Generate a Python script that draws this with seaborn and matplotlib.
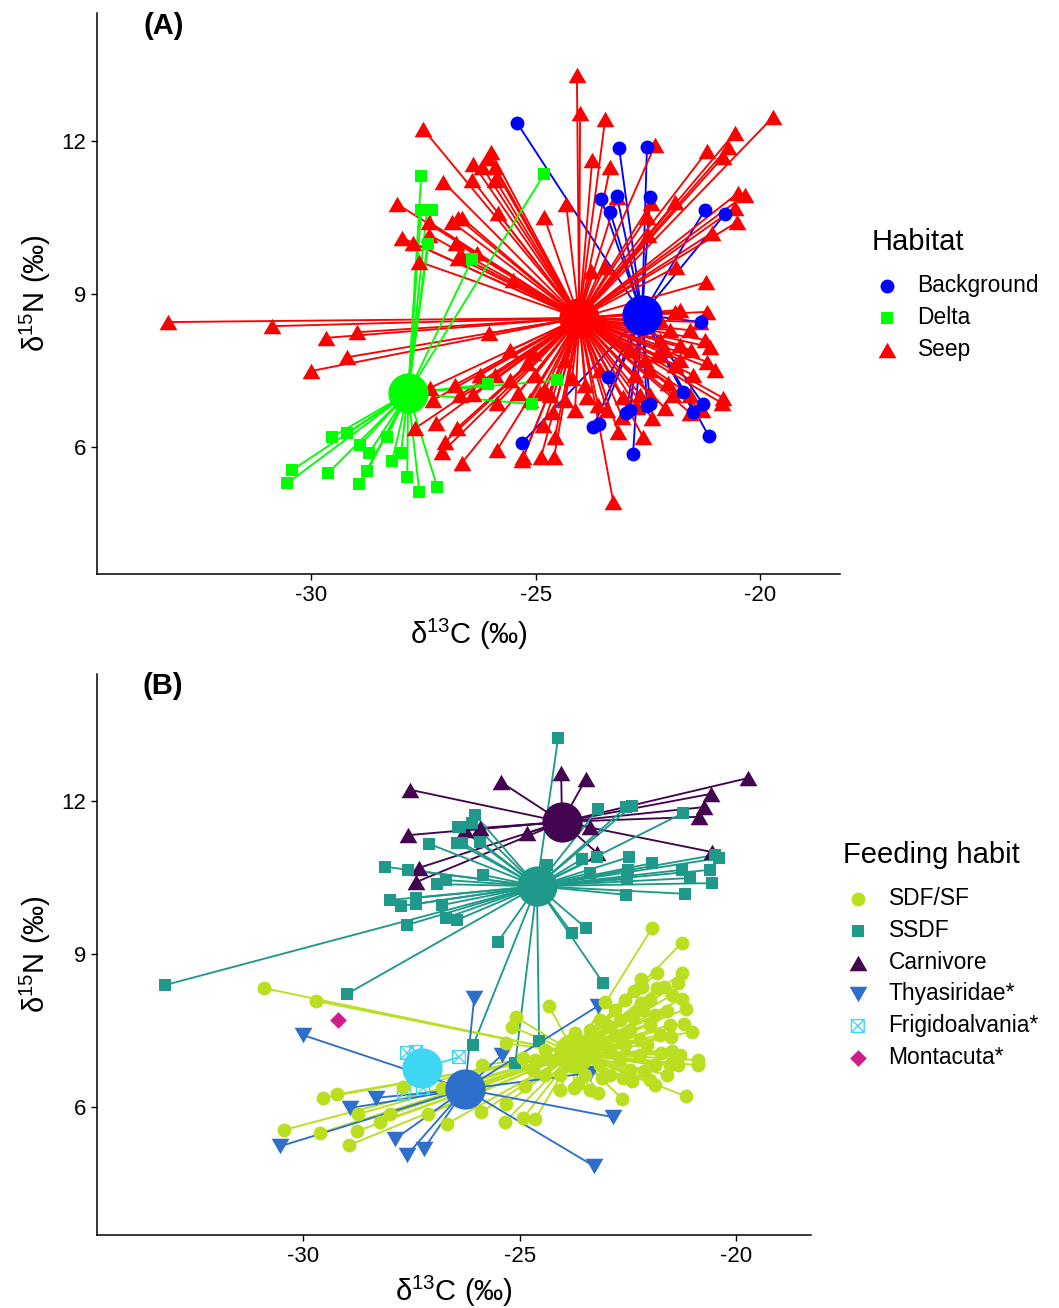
import matplotlib
matplotlib.use("Agg")
import matplotlib.pyplot as plt
import seaborn as sns
from matplotlib.markers import MarkerStyle
from matplotlib.path import Path

# Panel A, habitat groups
background_x = [-25.41, -23.14, -22.52, -23.54, -23.19, -22.45, -23.34, -21.23, -20.78, -21.31, -25.30, -23.72,
                -23.59, -22.98, -22.90, -22.52, -22.45, -21.72, -21.49, -21.27, -21.14, -22.83, -23.39]
background_y = [12.35, 11.86, 11.88, 10.86, 10.92, 10.90, 10.61, 10.65, 10.57, 8.45, 6.08, 6.39,
                6.45, 6.67, 6.72, 6.80, 6.84, 7.08, 6.69, 6.84, 6.21, 5.86, 7.37]

delta_x = [-27.55, -27.55, -27.42, -27.31, -27.39, -24.81, -26.41, -29.53, -29.20, -28.31, -28.91, -28.71, -30.42,
           -30.53, -29.62, -28.75, -28.93, -28.20, -28.00, -27.86, -27.59, -27.19, -26.06, -25.08, -24.52]
delta_y = [11.31, 10.65, 10.65, 10.65, 9.98, 11.35, 9.69, 6.20, 6.27, 6.20, 6.04, 5.88, 5.55,
           5.29, 5.49, 5.53, 5.27, 5.72, 5.88, 5.41, 5.12, 5.21, 7.23, 6.84, 7.31]

seep_x = [-24.08, -24.01, -23.45, -22.34, -23.74, -23.34, -24.32, -24.81, -21.18, -20.56, -20.71, -20.82, -19.71,
          -23.19, -22.43, -22.52, -21.89, -20.49, -20.34, -20.56, -20.51, -21.07, -21.87, -21.20, -21.78, -21.18,
          -23.76, -23.45, -22.50, -25.99, -26.39, -26.19, -25.90, -26.41, -25.90, -25.84, -26.64, -26.30, -25.50,
          -26.64, -26.06, -27.51, -27.06, -28.08, -27.37, -26.86, -26.73, -27.97, -27.37, -27.73, -26.77, -26.73,
          -27.59, -33.18, -30.87, -29.67, -28.98, -29.20, -30.00, -26.04, -27.35, -27.28, -26.39, -25.86, -25.39,
          -25.19, -27.22, -26.75, -27.68, -27.02, -27.08, -26.64, -25.86, -25.28, -25.30, -24.88, -24.59, -24.57,
          -24.83, -24.61, -24.90, -24.19, -23.85, -23.61, -23.41, -23.07, -23.16, -22.61, -22.41, -22.12, -23.27,
          -21.23, -21.11, -21.54, -21.18, -21.00, -21.49, -22.05, -21.94, -20.82, -20.85, -21.56, -21.29, -22.29,
          -25.06, -23.05, -22.74, -22.34, -21.56, -22.00, -21.34, -22.23, -21.78, -22.56, -21.89, -24.68, -25.12,
          -24.34, -22.67, -25.57, -25.01, -22.90, -22.45, -22.12, -21.78, -22.45, -23.56, -23.90, -24.34, -24.79,
          -25.57, -25.90, -26.68, -26.24, -26.79, -24.12, -22.78, -21.56, -22.23, -21.89]
seep_y = [13.29, 12.55, 12.43, 11.92, 11.63, 11.49, 10.76, 10.51, 11.80, 12.16, 11.88, 11.69, 12.47,
          10.90, 10.78, 10.51, 10.80, 10.98, 10.94, 10.69, 10.41, 10.20, 9.53, 9.23, 8.69, 8.65,
          9.45, 9.53, 10.16, 11.78, 11.55, 11.49, 11.49, 11.24, 11.24, 10.59, 10.49, 9.80, 9.27,
          9.73, 11.67, 12.24, 11.20, 10.76, 10.41, 10.41, 10.49, 10.10, 10.16, 10.00, 10.00, 9.71,
          9.63, 8.45, 8.37, 8.14, 8.25, 7.76, 7.49, 8.23, 7.16, 6.92, 7.04, 6.86, 7.06,
          7.65, 6.47, 6.37, 6.37, 6.10, 5.90, 5.69, 5.94, 5.80, 5.74, 5.80, 5.80, 6.20,
          6.43, 6.69, 7.06, 7.35, 6.98, 6.82, 6.72, 6.59, 6.29, 6.20, 6.57, 6.76, 4.92,
          8.10, 7.96, 7.90, 7.67, 7.51, 7.41, 7.25, 7.02, 6.96, 6.86, 6.67, 6.72, 7.80,
          7.84, 6.98, 6.78, 8.45, 8.29, 8.29, 8.45, 8.10, 8.00, 7.70, 7.61, 7.02, 6.92,
          6.92, 7.02, 7.31, 7.41, 7.90, 7.51, 7.90, 7.71, 7.02, 7.51, 7.22, 7.71, 7.12,
          7.90, 7.41, 7.02, 7.41, 7.22, 6.72, 7.41, 7.02, 8.49, 8.65]

# Panel B, feeding groups
sdf_x = [-30.90, -29.70, -29.54, -29.21, -28.73, -30.44, -29.61, -28.75, -28.94, -28.22, -27.99, -27.11, -26.68,
         -25.89, -25.34, -24.92, -24.64, -25.31, -24.87, -25.87, -27.69, -26.79, -25.31, -25.17, -25.08, -24.92,
         -24.69, -21.94, -21.25, -21.83, -21.25, -21.34, -22.20, -21.83, -21.66, -21.48, -22.36, -22.17, -21.25,
         -21.16, -22.20, -22.15, -21.60, -21.20, -21.02, -21.50, -21.48, -21.73, -22.06, -20.88, -20.88, -21.34,
         -21.53, -21.60, -22.13, -22.40, -22.61, -21.16, -22.63, -23.19, -23.74, -23.65, -23.10, -24.32, -23.72,
         -23.03, -22.38, -22.68, -22.98, -23.83, -23.37, -24.07, -24.30, -23.14, -22.91, -23.49, -22.57, -22.22,
         -22.68, -23.37, -23.14, -22.80, -22.45, -21.99, -21.76, -22.22, -21.87, -22.68, -22.91, -22.45, -21.87,
         -23.37, -24.07, -24.41, -24.64, -24.41, -23.14, -22.80, -22.57, -21.99, -21.87, -21.53, -21.99, -21.30]
sdf_y = [8.33, 8.08, 6.18, 6.25, 5.86, 5.55, 5.49, 5.53, 5.25, 5.71, 5.86, 5.86, 5.67,
         5.90, 5.71, 5.78, 5.76, 6.06, 6.41, 6.82, 6.39, 6.37, 7.25, 7.57, 7.76, 6.96,
         6.73, 9.51, 9.22, 8.63, 8.63, 8.43, 8.51, 8.33, 8.35, 8.20, 8.27, 8.35, 8.12,
         7.92, 8.04, 7.90, 7.88, 7.63, 7.47, 7.37, 7.10, 7.06, 7.22, 6.92, 6.82, 6.82,
         6.82, 6.63, 6.71, 6.51, 6.57, 6.21, 6.16, 6.27, 6.37, 6.45, 6.57, 7.98, 7.45,
         8.06, 7.76, 7.37, 7.61, 6.92, 7.22, 6.63, 6.92, 6.82, 7.12, 6.63, 7.22, 7.31,
         7.71, 7.51, 7.31, 7.41, 7.51, 7.61, 7.41, 7.02, 6.82, 6.92, 6.63, 6.72, 6.43,
         6.33, 6.33, 6.63, 6.92, 7.12, 7.71, 7.90, 8.10, 8.10, 7.80, 7.61, 6.53, 7.02]

ssdf_x = [-24.11, -23.19, -22.54, -22.40, -21.23, -23.56, -23.21, -24.37, -22.47, -21.94, -21.25, -20.49, -20.39,
          -20.60, -21.06, -20.56, -21.18, -22.54, -23.37, -22.50, -22.52, -25.84, -25.50, -23.79, -23.47, -23.07,
          -26.03, -26.10, -25.91, -26.37, -26.33, -28.11, -27.58, -27.09, -26.42, -26.44, -26.70, -26.91, -27.99,
          -27.74, -27.39, -27.39, -26.79, -26.70, -26.44, -27.60, -33.19, -28.98, -26.07, -24.55, -25.10]
ssdf_y = [13.24, 11.84, 11.88, 11.90, 11.76, 10.86, 10.90, 10.74, 10.90, 10.78, 10.65, 10.94, 10.88,
          10.65, 10.49, 10.39, 10.18, 10.16, 10.59, 10.65, 10.47, 10.55, 9.24, 9.41, 9.51, 8.43,
          11.73, 11.57, 11.20, 11.49, 11.18, 10.71, 10.65, 11.16, 11.49, 11.18, 10.45, 10.37, 10.06,
          9.94, 10.10, 9.98, 9.96, 9.71, 9.67, 9.57, 8.39, 8.22, 7.22, 7.29, 6.86]

carnivore_x = [-27.53, -27.58, -27.32, -27.39, -25.43, -24.04, -23.47, -20.58, -20.74, -20.86, -19.72, -23.37,
               -24.83, -23.21, -20.56, -25.91, -26.26]
carnivore_y = [12.22, 11.33, 10.69, 10.41, 12.37, 12.55, 12.43, 12.14, 11.88, 11.69, 12.45, 11.49,
               11.37, 10.98, 11.00, 11.47, 11.43]

thyasiridae_x = [-30.00, -26.05, -25.41, -28.31, -28.91, -30.53, -27.88, -27.60, -27.21, -23.19, -22.84, -23.28, -23.37]
thyasiridae_y = [7.41, 8.14, 7.02, 6.18, 5.98, 5.23, 5.37, 5.06, 5.18, 7.98, 5.80, 4.84, 6.67]

frigidoalvania_x = [-27.60, -27.39, -26.40, -27.67, -27.23]
frigidoalvania_y = [7.06, 7.08, 6.98, 6.27, 6.37]

montacuta_x = [-29.19]
montacuta_y = [7.71]

# Group means, the big dots
habitat_means = {"Background": (-22.63, 8.59), "Delta": (-27.84, 7.06), "Seep": (-24.03, 8.53)}
feeding_means = {"SDF/SF": (-23.74, 7.06), "SSDF": (-24.60, 10.33), "Carnivore": (-24.02, 11.59),
                 "Thyasiridae*": (-26.26, 6.35), "Frigidoalvania*": (-27.25, 6.76)}

X_TICKS = [-30, -25, -20]
Y_TICKS = [6, 9, 12]

sns.set_style("ticks")
plt.rcParams['font.family'] = ['Liberation Sans', 'DejaVu Sans']
plt.rcParams['mathtext.fontset'] = 'dejavusans'
plt.rcParams['mathtext.default'] = 'regular'
plt.rcParams['axes.unicode_minus'] = False
plt.rcParams['text.color'] = 'black'
plt.rcParams['axes.labelcolor'] = 'black'

TRI_UP = MarkerStyle(Path([(-1, -0.87), (1, -0.87), (0, 0.87), (-1, -0.87)], closed=True))
TRI_DOWN = MarkerStyle(Path([(-1, 0.87), (1, 0.87), (0, -0.87), (-1, 0.87)], closed=True))
# open box with an X in it, the R pch 7 look
BOX_X = MarkerStyle(Path([(-1, -1), (1, -1), (1, 1), (-1, 1), (-1, -1), (1, 1), (-1, 1), (1, -1)],
                         [Path.MOVETO, Path.LINETO, Path.LINETO, Path.LINETO, Path.LINETO,
                          Path.LINETO, Path.MOVETO, Path.LINETO]),
                    fillstyle='none')

SIZES = {'o': 100, 's': 80, 'D': 72, 'tri': 165, 'box': 85}


def draw_group(ax, name, xs, ys, mean, color, marker, size, line_z, point_z, mean_z):
    """Spokes from every point to the group mean, the points, then the mean."""
    if mean is not None:
        for x, y in zip(xs, ys):
            ax.plot([x, mean[0]], [y, mean[1]], color=color, lw=1.35, zorder=line_z, solid_capstyle='butt')
    kws = {'linewidth': 0} if marker is not BOX_X else {'linewidth': 1}
    sns.scatterplot(x=xs, y=ys, ax=ax, color=color, marker=marker, s=size, label=name, zorder=point_z, **kws)
    if mean is not None:
        sns.scatterplot(x=[mean[0]], y=[mean[1]], ax=ax, color=color, marker='o', s=840, linewidth=0, zorder=mean_z)


def style_axes(ax, xlim, ylim, letter, letter_x, xlabel_pad):
    ax.set_xlim(*xlim)
    ax.set_ylim(*ylim)
    ax.set_xticks(X_TICKS)
    ax.set_yticks(Y_TICKS)
    ax.tick_params(labelsize=16, length=4, width=1, color='black', labelcolor='black', pad=4)
    ax.set_xlabel(r'$\delta^{13}$C (‰)', fontsize=21, labelpad=xlabel_pad)
    ax.set_ylabel(r'$\delta^{15}$N (‰)', fontsize=21, labelpad=6)
    ax.text(letter_x, 14.25, letter, fontsize=21, fontweight='bold', va='center', ha='left')
    sns.despine(ax=ax)
    for side in ['left', 'bottom']:
        ax.spines[side].set_linewidth(1.1)
        ax.spines[side].set_color('black')


def add_legend(ax, fig, title, order, left_px, top_px):
    handles, labels = ax.get_legend_handles_labels()
    lookup = dict(zip(labels, handles))
    legend = ax.legend([lookup[k] for k in order], order, title=title, frameon=False, fontsize=16.4,
                       title_fontsize=21, loc='upper left', alignment='left', borderpad=0, borderaxespad=0,
                       handlelength=1.3, handletextpad=0.7, labelspacing=0.38,
                       bbox_to_anchor=(left_px / 1059, 1 - top_px / 1308), bbox_transform=fig.transFigure)
    legend._legend_box.sep = 13.2


def main():
    fig = plt.figure(figsize=(10.59, 13.08), dpi=100)
    ax_a = fig.add_axes([97 / 1059, (1308 - 574) / 1308, 743 / 1059, 561 / 1308])
    ax_b = fig.add_axes([97 / 1059, (1308 - 1235) / 1308, 714 / 1059, 561 / 1308])

    # Panel A
    draw_group(ax_a, "Seep", seep_x, seep_y, habitat_means["Seep"], '#FF0000', TRI_UP, SIZES['tri'], 2, 4, 7)
    draw_group(ax_a, "Background", background_x, background_y, habitat_means["Background"], '#0000FF', 'o',
               SIZES['o'], 1, 5, 8)
    draw_group(ax_a, "Delta", delta_x, delta_y, habitat_means["Delta"], '#00FF00', 's', SIZES['s'], 3, 6, 9)
    style_axes(ax_a, (-34.77, -18.22), (3.51, 14.51), '(A)', -33.74, 8)
    add_legend(ax_a, fig, "Habitat", ["Background", "Delta", "Seep"], 872, 228)

    # Panel B
    draw_group(ax_b, "Carnivore", carnivore_x, carnivore_y, feeding_means["Carnivore"], '#430550', TRI_UP,
               SIZES['tri'], 1, 6, 12)
    draw_group(ax_b, "SSDF", ssdf_x, ssdf_y, feeding_means["SSDF"], '#1F9A8A', 's', SIZES['s'], 2, 7, 13)
    draw_group(ax_b, "SDF/SF", sdf_x, sdf_y, feeding_means["SDF/SF"], '#B9DF20', 'o', SIZES['o'], 3, 10, 14)
    draw_group(ax_b, "Frigidoalvania*", frigidoalvania_x, frigidoalvania_y, feeding_means["Frigidoalvania*"],
               '#3FD5F5', BOX_X, SIZES['box'], 4, 9, 15)
    draw_group(ax_b, "Thyasiridae*", thyasiridae_x, thyasiridae_y, feeding_means["Thyasiridae*"], '#2E6FCB',
               TRI_DOWN, SIZES['tri'], 5, 8, 16)
    draw_group(ax_b, "Montacuta*", montacuta_x, montacuta_y, None, '#CF1C8C', 'D', SIZES['D'], 0, 11, 0)
    style_axes(ax_b, (-34.76, -18.27), (3.49, 14.49), '(B)', -33.70, 5)
    add_legend(ax_b, fig, "Feeding habit",
               ["SDF/SF", "SSDF", "Carnivore", "Thyasiridae*", "Frigidoalvania*", "Montacuta*"], 843, 841)

    fig.savefig("out.png", dpi=100, facecolor='white')


if __name__ == "__main__":
    main()
